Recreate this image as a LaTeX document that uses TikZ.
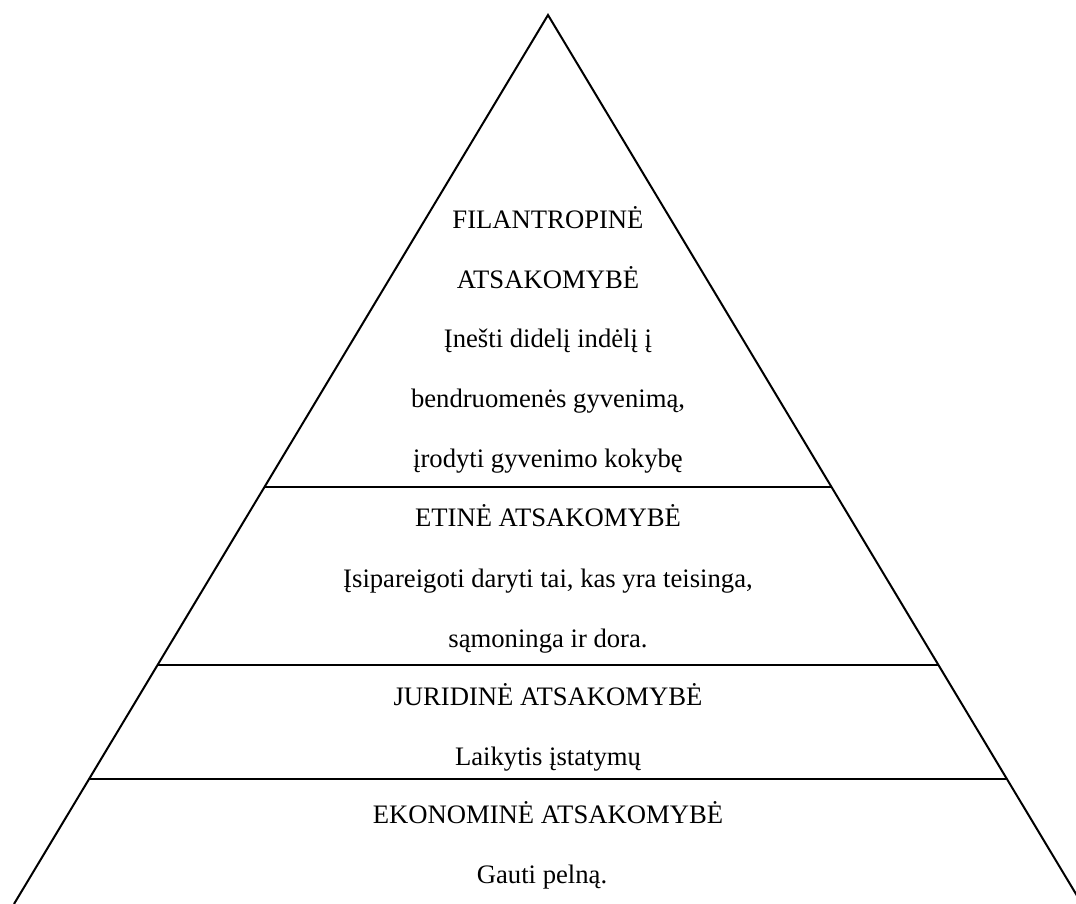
\documentclass[tikz,border=0pt]{standalone}
\usepackage{fontspec}
\setmainfont{Liberation Serif}
\usetikzlibrary{calc}
\tikzset{lvltext/.style={anchor=base,inner sep=0pt,font=\fontsize{20}{24}\selectfont}}
\begin{document}
\begin{tikzpicture}[x=0.75pt,y=-0.75pt,line width=1.5pt]
        \useasboundingbox (0,0) rectangle (1076,904);
        \clip (0,0) rectangle (1076,904);
        %% pyramid
        \coordinate (top) at (548,15);
        \coordinate (bl) at (14,904);
        \coordinate (br) at (1082,904);
        \draw (bl) -- (top) -- (br);
        %% levels
        \draw ($(top)!0.531!(bl)$) -- ($(top)!0.531!(br)$);
        \draw ($(top)!0.731!(bl)$) -- ($(top)!0.731!(br)$);
        \draw ($(top)!0.859!(bl)$) -- ($(top)!0.859!(br)$);
        %% filantropine
        \node[lvltext] (fil1) at (548,228) {FILANTROPINĖ};
        \node[lvltext] (fil2) at (548,288) {ATSAKOMYBĖ};
        \node[lvltext] (fil3) at (548,347) {Įnešti didelį indėlį į};
        \node[lvltext] (fil4) at (548,407) {bendruomenės gyvenimą,};
        \node[lvltext] (fil5) at (548,467) {įrodyti gyvenimo kokybę};
        %% etine
        \node[lvltext] (eti1) at (548,526) {ETINĖ ATSAKOMYBĖ};
        \node[lvltext] (eti2) at (548,587) {Įsipareigoti daryti tai, kas yra teisinga,};
        \node[lvltext] (eti3) at (548,647) {sąmoninga ir dora.};
        %% juridine
        \node[lvltext] (jur1) at (548,705) {JURIDINĖ ATSAKOMYBĖ};
        \node[lvltext] (jur2) at (548,765) {Laikytis įstatymų};
        %% ekonomine
        \node[lvltext] (eko1) at (548,823) {EKONOMINĖ ATSAKOMYBĖ};
        \node[lvltext] (eko2) at (542,883) {Gauti pelną.};
\end{tikzpicture}
\end{document}
